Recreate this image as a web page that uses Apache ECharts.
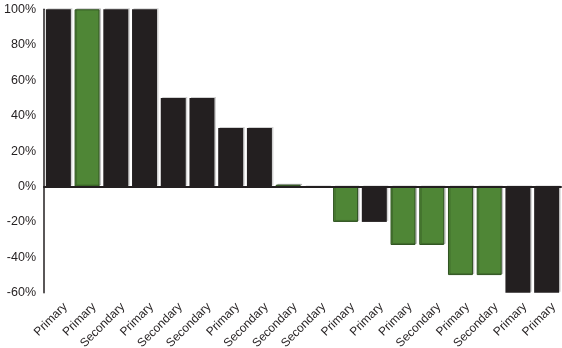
<!DOCTYPE html>
<html><head><meta charset="utf-8">
<script src="https://cdn.jsdelivr.net/npm/echarts@6/dist/echarts.min.js"></script>
<style>html,body{margin:0;padding:0;background:#fff}#c{width:562px;height:348px}</style>
</head><body><div id="c"></div>
<script>
var categories = ['Primary','Primary','Secondary','Primary','Secondary','Secondary','Primary','Secondary','Secondary','Secondary','Primary','Primary','Primary','Secondary','Primary','Secondary','Primary','Primary'];
var values = [100,100,100,100,50,50,33,33,1,-0.8,-20,-20,-33,-33,-50,-50,-60,-60];
var isGreen = [0,1,0,0,0,0,0,0,1,0,1,0,1,1,1,1,0,0];
var yTicks = {min:-60, max:100, interval:20};

var BLACK = '#231f20', GREEN = '#4f8636', GREEN_EDGE = '#2e521f';
var data = values.map(function(v,i){
  return {value:v, itemStyle: isGreen[i] ? {color:GREEN, borderColor:GREEN_EDGE, borderWidth:1} : {color:BLACK}};
});
var chart = echarts.init(document.getElementById('c'), null, {renderer:'canvas'});
chart.setOption({
  animation:false,
  grid:{left:44, right:1, top:9.3, bottom:55.2, containLabel:false, outerBoundsMode:'none'},
  xAxis:[{
    type:'category', data:categories, position:'bottom',
    axisLine:{show:false, onZero:false}, axisTick:{show:false},
    axisLabel:{rotate:45, interval:0, fontSize:12, color:'#231f20', fontFamily:'Liberation Sans, Arial, sans-serif', margin:5, verticalAlign:'top', lineHeight:20}
  },{
    type:'category', data:categories, position:'bottom', z:10,
    axisLine:{show:true, onZero:true, lineStyle:{color:BLACK, width:2}},
    axisTick:{show:false}, axisLabel:{show:false}
  }],
  yAxis:{
    type:'value', min:yTicks.min, max:yTicks.max, interval:yTicks.interval,
    axisLine:{show:true, lineStyle:{color:BLACK, width:1.5}}, axisTick:{show:false},
    splitLine:{show:false},
    axisLabel:{formatter:'{value}%', fontSize:12.5, color:'#231f20', fontFamily:'Liberation Sans, Arial, sans-serif', margin:8}
  },
  series:[{
    type:'bar', data:data, xAxisIndex:0, barCategoryGap:'13%',
    itemStyle:{shadowColor:'rgba(0,0,0,0.18)', shadowOffsetX:1.5, shadowOffsetY:-1, shadowBlur:0}
  }]
});
</script></body></html>
